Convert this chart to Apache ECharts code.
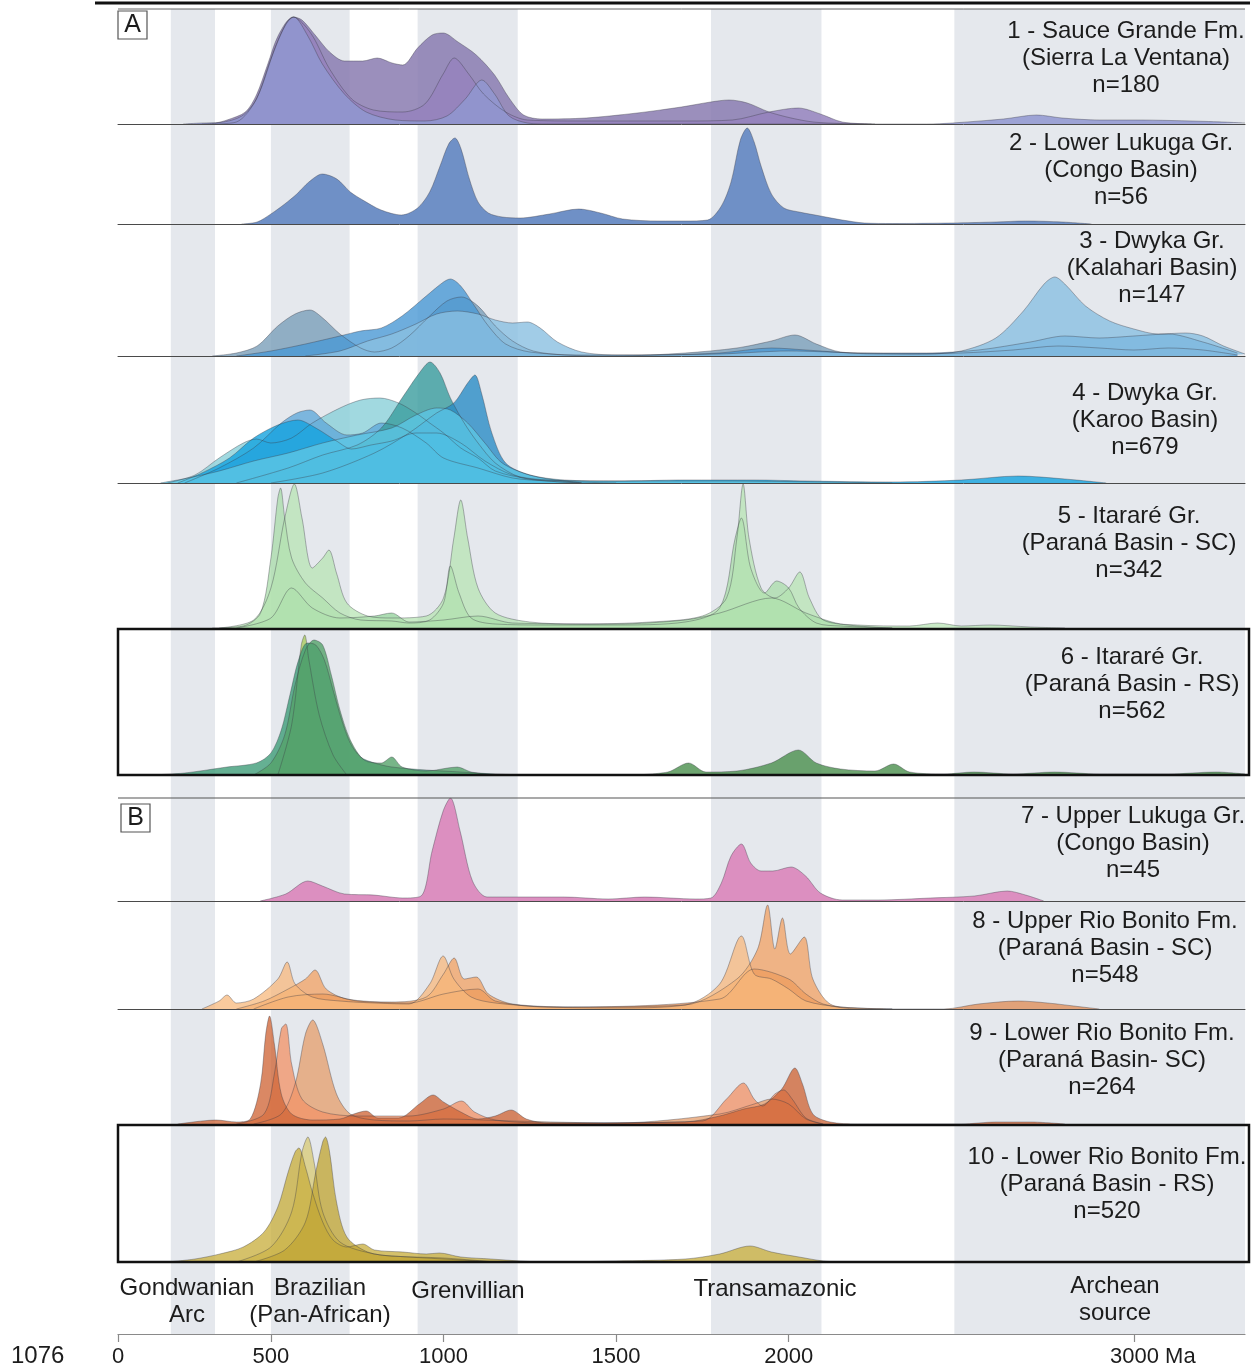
<!DOCTYPE html>
<html>
<head>
<meta charset="utf-8">
<script src="https://cdn.jsdelivr.net/npm/echarts@6/dist/echarts.min.js"></script>
<style>
  html, body { margin: 0; padding: 0; background: #ffffff; }
  #chart { width: 1255px; height: 1369px; }
</style>
</head>
<body>
<div id="chart"></div>
<script>
// Detrital zircon U-Pb age spectra: kernel density estimates, [age (Ma), relative density]

// 1 - Sauce Grande Fm.
const sauceGrande_s1 = [[300,0],[340,1],[373,4],[426,12],[458,29],[490,59],[522,89],[564,107],[590,104],[628,89],[670,72],[713,63],[766,63],[808,66],[851,61],[882,59],[925,76],[967,89],[999,91],[1042,82],[1095,69],[1148,49],[1190,26],[1232,9],[1286,5],[1413,6],[1561,11],[1689,17],[1774,22],[1827,24],[1880,21],[1943,12],[2007,6],[2071,2],[2155,0.5],[2250,0]];
const sauceGrande_s2 = [[330,0],[400,2],[458,25],[522,85],[566,107],[617,90],[670,55],[734,25],[797,14],[882,12],[946,20],[999,50],[1031,66],[1073,50],[1116,30],[1180,12],[1243,4],[1400,3],[1519,3],[1700,3],[1837,4],[1943,12],[2028,16],[2092,10],[2155,2],[2240,0]];
const sauceGrande_s3 = [[246,0],[300,1],[352,1.5],[416,8],[458,25],[500,65],[543,100],[566,107],[607,88],[649,60],[713,30],[776,12],[861,4],[946,3],[1010,8],[1063,25],[1111,44],[1148,30],[1190,8],[1243,1],[1300,0],[2400,0],[2474,1],[2622,5],[2718,9],[2792,6],[2900,4],[3004,4],[3217,2.5],[3322,1]];

// 2 - Lower Lukuga Gr.
const lowerLukuga = [[415,0],[460,2],[500,10],[540,20],[575,30],[610,42],[649,50],[691,45],[730,32],[766,24],[819,14],[878,9],[925,16],[960,32],[990,58],[1015,80],[1033,86],[1050,76],[1075,45],[1100,22],[1130,11],[1170,7],[1222,6],[1307,10],[1392,15],[1455,11],[1519,5],[1625,3],[1700,3],[1765,4],[1805,18],[1833,42],[1860,84],[1880,96],[1900,82],[1920,58],[1950,30],[1986,16],[2030,12],[2092,8],[2155,4],[2219,1],[2300,0.5],[2474,1],[2600,2],[2686,3],[2792,2],[2877,0]];

// 3 - Dwyka Gr. (Kalahari Basin)
const dwykaKalahari_s1 = [[330,0],[400,3],[460,10],[520,30],[570,42],[613,46],[650,38],[700,22],[760,8],[800,4],[850,8],[900,20],[960,40],[1010,55],[1052,59],[1100,50],[1150,30],[1200,15],[1260,5],[1350,1],[1500,0],[1700,3],[1850,8],[1950,15],[2018,21],[2080,12],[2150,4],[2300,2],[2500,3],[2650,6],[2780,10],[2900,8],[3000,6],[3100,8],[3200,6],[3300,1]];
const dwykaKalahari_s2 = [[400,0],[500,5],[600,12],[700,20],[760,25],[820,28],[880,40],[950,60],[1000,74],[1020,77],[1050,70],[1090,50],[1130,30],[1180,12],[1250,4],[1400,1],[1600,1],[1800,3],[1950,8],[2050,6],[2200,3],[2400,3],[2550,6],[2700,14],[2800,20],[2900,18],[3000,20],[3100,22],[3200,14],[3300,3]];
const dwykaKalahari_s3 = [[600,0],[700,5],[780,15],[850,22],[920,32],[980,42],[1040,45],[1100,42],[1150,36],[1200,33],[1243,34],[1280,28],[1330,14],[1400,4],[1500,1],[1800,2],[2000,5],[2200,3],[2400,2],[2500,5],[2600,18],[2680,45],[2740,72],[2771,79],[2800,72],[2860,50],[2930,35],[3000,27],[3070,22],[3150,23],[3200,20],[3260,10],[3322,2]];

// 4 - Dwyka Gr. (Karoo Basin)
const dwykaKaroo_s1 = [[200,0],[280,8],[350,25],[420,40],[458,44],[500,40],[560,45],[620,60],[700,75],[760,83],[816,85],[870,80],[920,70],[960,60],[1000,50],[1050,35],[1100,25],[1150,12],[1250,4],[1350,2],[1400,0]];
const dwykaKaroo_s2 = [[250,0],[350,15],[450,35],[530,60],[575,70],[613,73],[660,60],[720,48],[766,50],[820,60],[880,55],[950,40],[1000,25],[1100,15],[1200,5],[1300,2],[1400,0]];
const dwykaKaroo_s3 = [[400,0],[550,15],[650,28],[750,38],[820,55],[880,85],[930,110],[961,121],[990,110],[1020,85],[1060,60],[1100,40],[1150,20],[1220,6],[1300,2],[1400,0]];
const dwykaKaroo_s4 = [[500,0],[650,10],[800,30],[900,50],[980,70],[1030,80],[1070,100],[1091,108],[1110,90],[1140,50],[1180,20],[1250,8],[1350,2],[1500,0]];
const dwykaKaroo_s5 = [[230,0],[300,10],[380,25],[450,45],[520,58],[578,63],[630,55],[690,42],[734,34],[790,38],[850,42],[920,50],[980,50],[1050,40],[1120,22],[1200,8],[1300,3],[1500,2],[1700,3],[1900,3],[2050,2],[2300,1],[2500,3],[2665,7],[2800,4],[2920,0]];
const dwykaKaroo_s6 = [[180,0],[260,5],[350,12],[450,22],[550,30],[650,40],[750,48],[850,55],[920,68],[980,75],[1020,73],[1070,60],[1120,40],[1170,20],[1250,8],[1350,3],[1500,2],[1800,2],[2100,1],[2300,0]];

// 5 - Itararé Gr. (Paraná Basin - SC)
const itarareSC_s1 = [[330,0],[420,2],[470,15],[500,70],[520,130],[528,140],[540,110],[560,70],[600,45],[650,30],[700,15],[760,8],[850,7],[900,5],[960,8],[1000,25],[1020,62],[1045,35],[1080,10],[1150,4],[1300,3],[1500,3],[1700,6],[1800,20],[1845,90],[1863,110],[1890,60],[1930,35],[1965,47],[2000,40],[2030,20],[2080,5],[2150,2],[2300,0]];
const itarareSC_s2 = [[350,0],[450,8],[500,40],[540,110],[568,144],[590,110],[620,60],[650,70],[668,78],[690,55],[720,25],[780,12],[850,10],[950,12],[1000,30],[1030,90],[1050,128],[1070,90],[1100,40],[1150,15],[1250,6],[1400,4],[1600,6],[1750,12],[1820,30],[1850,90],[1868,144],[1885,90],[1920,40],[1960,30],[2000,40],[2032,56],[2060,30],[2100,8],[2200,3],[2350,2],[2432,5],[2500,2],[2583,3],[2700,1],[2800,0]];
const itarareSC_s3 = [[400,0],[500,10],[560,40],[620,20],[700,10],[800,12],[850,15],[900,6],[1000,8],[1100,12],[1200,5],[1500,4],[1700,8],[1800,15],[1950,30],[2050,15],[2150,4],[2300,0]];

// 6 - Itararé Gr. (Paraná Basin - RS)
const itarareRS_s1 = [[520,0],[560,50],[588,130],[598,140],[610,115],[640,60],[680,20],[720,0]];
const itarareRS_s2 = [[150,0],[250,2],[373,8],[458,12],[500,22],[530,45],[555,80],[580,115],[605,132],[630,130],[655,115],[680,85],[705,55],[730,32],[760,18],[800,12],[850,8],[950,5],[1050,3],[1150,1],[1250,0]];
const itarareRS_s3 = [[450,0],[500,12],[540,40],[570,90],[600,125],[625,135],[650,130],[675,100],[700,65],[730,35],[770,15],[820,12],[850,18],[880,8],[950,4],[1040,8],[1080,3],[1150,0]];
const itarareRS_s4 = [[1550,0],[1650,3],[1710,12],[1760,3],[1850,4],[1950,12],[2028,25],[2080,12],[2150,6],[2250,4],[2304,11],[2350,3],[2450,1],[2537,3],[2650,1],[2771,3],[2900,1],[3100,1],[3238,3],[3322,1]];

// 7 - Upper Lukuga Gr.
const upperLukuga = [[469,0],[543,7],[607,20],[649,15],[713,7],[797,6],[882,3],[935,5],[967,50],[999,90],[1020,103],[1048,70],[1084,20],[1126,4],[1201,4],[1349,4],[1477,2],[1583,4],[1731,2],[1775,3],[1805,18],[1833,45],[1863,57],[1890,38],[1920,30],[1954,30],[2007,34],[2049,25],[2092,8],[2155,1],[2261,1],[2410,3],[2538,5],[2633,10],[2686,6],[2739,0]];

// 8 - Upper Rio Bonito Fm. (Paraná Basin - SC)
const upperRioBonito_s1 = [[300,0],[350,8],[373,14],[400,6],[450,10],[520,30],[547,47],[570,25],[620,12],[700,8],[800,6],[900,5],[960,25],[999,53],[1030,30],[1080,12],[1150,6],[1300,2],[1500,1],[1700,4],[1800,25],[1863,73],[1900,35],[1950,30],[2000,20],[2050,8],[2150,2],[2300,0]];
const upperRioBonito_s2 = [[400,0],[480,8],[550,20],[600,30],[628,39],[660,20],[720,10],[850,7],[950,12],[1000,35],[1031,51],[1060,30],[1095,32],[1130,15],[1200,5],[1400,2],[1700,4],[1850,30],[1910,60],[1939,104],[1960,60],[1982,91],[2005,55],[2045,72],[2070,30],[2120,5],[2200,1],[2300,0]];
const upperRioBonito_s3 = [[450,0],[550,12],[650,15],[750,8],[900,6],[1000,15],[1100,20],[1150,8],[1300,2],[1800,10],[1900,40],[2000,30],[2050,15],[2100,5],[2200,0],[2450,0],[2550,5],[2665,8],[2750,6],[2850,2],[2900,0]];

// 9 - Lower Rio Bonito Fm. (Paraná Basin - SC)
const lowerRioBonitoSC_s1 = [[230,0],[300,3],[341,4],[400,2],[440,5],[470,40],[485,90],[496,108],[510,80],[530,30],[560,10],[620,4],[700,5],[740,10],[776,13],[810,6],[870,6],[930,20],[970,29],[1000,22],[1050,12],[1100,5],[1150,8],[1196,14],[1240,5],[1300,1],[1700,2],[1800,8],[1870,15],[1930,20],[1980,35],[2018,56],[2040,40],[2070,10],[2120,2],[2200,0],[2500,0],[2600,2],[2700,2],[2800,0]];
const lowerRioBonitoSC_s2 = [[400,0],[480,10],[510,50],[530,95],[543,100],[560,60],[590,25],[650,12],[750,8],[900,8],[1000,15],[1052,23],[1090,12],[1150,4],[1300,1],[1750,3],[1820,25],[1869,41],[1900,25],[1925,18],[1960,30],[1985,34],[2010,25],[2050,6],[2100,0]];
const lowerRioBonitoSC_s3 = [[450,0],[530,10],[570,40],[600,90],[621,104],[650,80],[690,30],[730,10],[800,4],[900,3],[1000,5],[1200,3],[1500,1],[1800,10],[1900,20],[1950,25],[2000,20],[2050,5],[2100,0]];

// 10 - Lower Rio Bonito Fm. (Paraná Basin - RS)
const lowerRioBonitoRS_s1 = [[400,0],[500,15],[560,50],[590,110],[607,125],[625,100],[650,50],[700,20],[800,8],[900,5],[1000,3],[1100,1],[1150,0]];
const lowerRioBonitoRS_s2 = [[200,0],[280,3],[352,8],[420,15],[480,30],[520,55],[550,90],[570,110],[581,114],[600,95],[620,70],[650,40],[680,22],[720,15],[766,18],[800,12],[882,10],[950,8],[988,9],[1050,5],[1137,3],[1222,1],[1300,0],[1500,1],[1700,3],[1800,8],[1888,16],[1950,10],[2030,5],[2100,1],[2155,0]];
const lowerRioBonitoRS_s3 = [[450,0],[540,12],[600,40],[630,90],[650,120],[658,125],[670,110],[690,60],[720,25],[780,10],[850,6],[1000,4],[1150,0]];

// Panel captions
const PANEL_TITLES = [
  ['1 - Sauce Grande Fm.', '(Sierra La Ventana)', 'n=180'],
  ['2 - Lower Lukuga Gr.', '(Congo Basin)', 'n=56'],
  ['3 - Dwyka Gr.', '(Kalahari Basin)', 'n=147'],
  ['4 - Dwyka Gr.', '(Karoo Basin)', 'n=679'],
  ['5 - Itararé Gr.', '(Paraná Basin - SC)', 'n=342'],
  ['6 - Itararé Gr.', '(Paraná Basin - RS)', 'n=562'],
  ['7 - Upper Lukuga Gr.', '(Congo Basin)', 'n=45'],
  ['8 - Upper Rio Bonito Fm.', '(Paraná Basin - SC)', 'n=548'],
  ['9 - Lower Rio Bonito Fm.', '(Paraná Basin- SC)', 'n=264'],
  ['10 - Lower Rio Bonito Fm.', '(Paraná Basin - RS)', 'n=520']
];

// Source provinces (age ranges, Ma)
const PROVINCE_NAMES = ['Gondwanian\nArc', 'Brazilian\n(Pan-African)', 'Grenvillian', 'Transamazonic', 'Archean\nsource'];
const PROVINCE_RANGES = [[210, 338], [500, 728], [925, 1215], [1775, 2095], [2480, 3322]];

// Age axis (the axis starts at the left edge, labelled 0)
const AGE_MIN = 57;
const AGE_MAX = 3322;
const TICK_VALUES = [AGE_MIN, 500, 1000, 1500, 2000, 3000];
const TICK_LABELS = ['0', '500', '1000', '1500', '2000', '3000 Ma'];

// ---- Series grouped by panel ----
const PANEL_SERIES = [
  [sauceGrande_s1, sauceGrande_s2, sauceGrande_s3],
  [lowerLukuga],
  [dwykaKalahari_s1, dwykaKalahari_s2, dwykaKalahari_s3],
  [dwykaKaroo_s1, dwykaKaroo_s2, dwykaKaroo_s3, dwykaKaroo_s4, dwykaKaroo_s5, dwykaKaroo_s6],
  [itarareSC_s3, itarareSC_s1, itarareSC_s2],
  [itarareRS_s1, itarareRS_s2, itarareRS_s3, itarareRS_s4],
  [upperLukuga],
  [upperRioBonito_s3, upperRioBonito_s2, upperRioBonito_s1],
  [lowerRioBonitoSC_s3, lowerRioBonitoSC_s2, lowerRioBonitoSC_s1],
  [lowerRioBonitoRS_s1, lowerRioBonitoRS_s2, lowerRioBonitoRS_s3]
];

// ---- Styling ----
const PANEL_COLORS = [
  ['#8a7bb0', '#9583bd', '#9096d0'],
  ['#6f90c6'],
  ['#7a9fb9', '#4a99d4', '#8abfe1'],
  ['#8ad0d8', '#62a9da', '#3a9c9e', '#2b8cc6', '#14a3df', '#5cc6e4'],
  ['#8ccf94', '#a6dba6', '#b6e3b2'],
  ['#aacb60', '#3f9c78', '#55a36a', '#4a8f4c'],
  ['#dc8fc0'],
  ['#df8b52', '#f1a262', '#f7b87c'],
  ['#e6a070', '#f2956a', '#cf6638'],
  ['#d9ca78', '#c9b040', '#c2a637']
];
const PANEL_OPACITY = [0.85, 1, 0.8, 0.8, 0.72, 0.8, 1, 0.75, 0.78, 0.78];
const BAND_COLOR = '#e5e8ed';
const FONT = '"Liberation Sans", Arial, sans-serif';
const TEXT_COLOR = '#1c1c1c';

// ---- Layout (px) ----
const PLOT_LEFT = 118;
const PLOT_WIDTH = 1127;
const PANEL_TOP = [9, 124, 224, 356, 483, 629, 798, 901, 1009, 1125];
const PANEL_BASE = [124, 224, 356, 483, 628, 775, 901, 1009, 1124, 1262];
const AXIS_Y = 1334;
const TITLE_X = [1126, 1121, 1152, 1145, 1129, 1132, 1133, 1105, 1102, 1107];
const TITLE_Y = [58, 170, 268, 420, 543, 684, 843, 948, 1060, 1184];
const PROVINCE_LABEL_X = [187, 320, 468, 775, 1115];
const PROVINCE_LABEL_Y = [1302, 1302, 1291, 1289, 1300];

const grids = [], xAxes = [], yAxes = [], series = [];

// Grid 0: full-height background bands for source provinces
grids.push({ left: PLOT_LEFT, width: PLOT_WIDTH, top: PANEL_TOP[0], height: AXIS_Y - PANEL_TOP[0] });
xAxes.push({ type: 'value', gridIndex: 0, min: AGE_MIN, max: AGE_MAX, show: false });
yAxes.push({ type: 'value', gridIndex: 0, min: 0, max: 1, show: false });
series.push({
  type: 'line', xAxisIndex: 0, yAxisIndex: 0, data: [], silent: true, z: 1,
  markArea: {
    silent: true,
    itemStyle: { color: BAND_COLOR },
    data: PROVINCE_RANGES.map(r => [{ xAxis: r[0] }, { xAxis: r[1] }])
  }
});

// Grids 1..10: one per sample group
PANEL_SERIES.forEach((group, i) => {
  const g = i + 1;
  const h = PANEL_BASE[i] - PANEL_TOP[i];
  grids.push({ left: PLOT_LEFT, width: PLOT_WIDTH, top: PANEL_TOP[i], height: h });
  xAxes.push({
    type: 'value', gridIndex: g, min: AGE_MIN, max: AGE_MAX, z: 10,
    axisLine: { show: true, onZero: false, lineStyle: { color: '#4a4a4a', width: 1 } },
    axisTick: { show: false }, axisLabel: { show: false }, splitLine: { show: false }
  });
  yAxes.push({ type: 'value', gridIndex: g, min: 0, max: h, show: false });
  group.forEach((data, k) => {
    series.push({
      type: 'line', xAxisIndex: g, yAxisIndex: g, data: data,
      smooth: 0.3, symbol: 'none', silent: true, z: 2,
      lineStyle: { color: 'rgba(60,60,70,0.55)', width: 0.7 },
      areaStyle: { color: PANEL_COLORS[i][k], opacity: PANEL_OPACITY[i] }
    });
  });
});

// Grid 11: the age axis
const AX = grids.length;
grids.push({ left: PLOT_LEFT, width: PLOT_WIDTH, top: AXIS_Y - 1, height: 1 });
xAxes.push({
  type: 'value', gridIndex: AX, min: AGE_MIN, max: AGE_MAX, position: 'bottom',
  axisLine: { show: true, onZero: false, lineStyle: { color: '#8a8a8a', width: 1.2 } },
  axisTick: { show: true, customValues: TICK_VALUES, length: 8, lineStyle: { color: '#8a8a8a', width: 1.2 } },
  axisLabel: {
    show: true, customValues: TICK_VALUES, showMinLabel: true, showMaxLabel: true,
    margin: 12, color: TEXT_COLOR, fontSize: 22, fontFamily: FONT,
    formatter: v => {
      const t = TICK_LABELS[TICK_VALUES.indexOf(v)];
      return t && t.indexOf(' ') > 0 ? '{unit|' + t + '}' : t;
    },
    rich: { unit: { fontSize: 22, fontFamily: FONT, color: TEXT_COLOR, padding: [0, 0, 0, 38] } }
  },
  splitLine: { show: false }
});
yAxes.push({ type: 'value', gridIndex: AX, min: 0, max: 1, show: false });

// ---- Overlay graphics: frames, panel letters, captions ----
const graphic = [];
graphic.push({ type: 'line', z: 100, shape: { x1: 95, y1: 3, x2: 1250, y2: 3 }, style: { stroke: '#111', lineWidth: 3 } });
graphic.push({ type: 'line', z: 100, shape: { x1: PLOT_LEFT, y1: PANEL_TOP[0], x2: PLOT_LEFT + PLOT_WIDTH, y2: PANEL_TOP[0] }, style: { stroke: '#666', lineWidth: 1 } });
graphic.push({ type: 'line', z: 100, shape: { x1: PLOT_LEFT, y1: PANEL_TOP[6], x2: PLOT_LEFT + PLOT_WIDTH, y2: PANEL_TOP[6] }, style: { stroke: '#555', lineWidth: 1.2 } });
[5, 9].forEach(i => {
  graphic.push({ type: 'rect', z: 100, shape: { x: PLOT_LEFT, y: PANEL_TOP[i], width: 1131, height: PANEL_BASE[i] - PANEL_TOP[i] },
    style: { fill: 'none', stroke: '#111', lineWidth: 2.5 } });
});
[['A', 118, 11], ['B', 121, 804]].forEach(([t, x, y]) => {
  graphic.push({ type: 'rect', z: 100, shape: { x: x, y: y, width: 29, height: 28 }, style: { fill: '#fff', stroke: '#555', lineWidth: 1.2 } });
  graphic.push({ type: 'text', z: 101, style: { text: t, x: x + 14.5, y: y + 14.5, textAlign: 'center', textVerticalAlign: 'middle', font: '25px ' + FONT, fill: TEXT_COLOR } });
});
PANEL_TITLES.forEach((lines, i) => {
  graphic.push({ type: 'text', z: 101, style: {
    text: lines.join('\n'), x: TITLE_X[i], y: TITLE_Y[i], textAlign: 'center', textVerticalAlign: 'middle',
    font: '24px ' + FONT, lineHeight: 27, fill: TEXT_COLOR } });
});
PROVINCE_NAMES.forEach((name, i) => {
  graphic.push({ type: 'text', z: 101, style: {
    text: name, x: PROVINCE_LABEL_X[i], y: PROVINCE_LABEL_Y[i], textAlign: 'center', textVerticalAlign: 'middle',
    font: '24px ' + FONT, lineHeight: 27, fill: TEXT_COLOR } });
});
graphic.push({ type: 'text', z: 101, style: { text: '1076', x: 11, y: 1356, textAlign: 'left', textVerticalAlign: 'middle', font: '24px ' + FONT, fill: TEXT_COLOR } });

const chart = echarts.init(document.getElementById('chart'), null, { renderer: 'canvas' });
chart.setOption({
  animation: false,
  backgroundColor: '#ffffff',
  grid: grids,
  xAxis: xAxes,
  yAxis: yAxes,
  series: series,
  graphic: graphic
});
</script>
</body>
</html>
